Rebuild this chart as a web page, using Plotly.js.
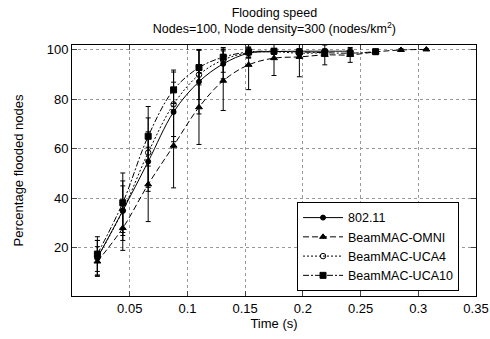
<!DOCTYPE html>
<html><head><meta charset="utf-8">
<script src="https://cdn.plot.ly/plotly-3.0.1.min.js"></script>
<style>html,body{margin:0;padding:0;background:#fff}#c{width:490px;height:339px}</style>
</head><body><div id="c"></div>
<script>
const timeX = [0.022,0.044,0.066,0.088,0.110,0.131,0.153,0.175,0.197,0.219,0.241,0.263,0.285,0.307];
const names = ["802.11","BeamMAC-OMNI","BeamMAC-UCA4","BeamMAC-UCA10"];
const y80211 = [16,35,54.8,74.8,87,94.2,98.5,99.1,99.3,99.3,99.3];
const e80211 = [7,10,12,12,13,6,2,1,1,1,1];
const yOmni = [14.5,28,45.6,61.2,76.7,87.4,93.8,96.5,97,97.8,97.8,99,99.8,100];
const eOmni = [6,9,15,17,15,12,10,7,8,4,3,1,0.5,0.3];
const yUca4 = [16,35,58.4,77.9,89.8,95.8,98.7,99.1,98.5,98.7];
const eUca4 = [7,12,14,13,10,5,2,1,1,1];
const yUca10 = [17.5,38.2,65,83.7,92.7,96.9,99,99.3,99,98.7,98.5,99.1];
const eUca10 = [7,12,12,8,7,3,2,1,1,1,1,1];
const xTicks = [0.05,0.1,0.15,0.2,0.25,0.3,0.35];
const xTickText = ["0.05","0.1","0.15","0.2","0.25","0.3","0.35"];
const yTicks = [20,40,60,80,100];

const ys = [y80211,yOmni,yUca4,yUca10];
const es = [e80211,eOmni,eUca4,eUca10];
const dashes = ["solid","6px,3px","2px,2px","6px,2px,2px,2px"];
const syms = ["circle","triangle-up","circle-open","square"];
const sizes = [5,6,5.5,6];

const traces = ys.map((y,i)=>({
  x: timeX.slice(0,y.length), y: y, name: names[i],
  type:"scatter", mode:"lines+markers",
  line:{color:"#000",width:1,dash:dashes[i],shape:"spline"},
  marker:{symbol:syms[i],size:sizes[i],color:"#000",line:{color:"#000",width:1}},
  error_y:{type:"data",array:es[i],visible:true,color:"#000",thickness:1,width:2.5}
}));

const font = {family:"Liberation Sans, Arial, sans-serif",size:13,color:"#000"};
const layout = {
  width:490,height:339,
  margin:{l:72,r:14,t:45,b:43},
  paper_bgcolor:"#fff",plot_bgcolor:"#fff",
  font:font,
  title:{text:"Flooding speed<br>Nodes=100, Node density=300 (nodes/km<sup>2</sup>)",
    font:{family:font.family,size:12.5,color:"#000"},x:0.56,xanchor:"center",
    yref:"container",y:0.95,yanchor:"middle"},
  xaxis:{range:[0,0.35],tickvals:xTicks,ticktext:xTickText,ticks:"inside",ticklen:5,
    showline:true,linecolor:"#000",linewidth:1,mirror:"ticks",
    showgrid:true,gridcolor:"#999",griddash:"dot",gridwidth:1,zeroline:false,
    title:{text:"Time (s)",font:font,standoff:4},tickfont:font},
  yaxis:{range:[0.6,101.8],tickvals:yTicks,ticks:"inside",ticklen:5,
    showline:true,linecolor:"#000",linewidth:1,mirror:"ticks",
    showgrid:true,gridcolor:"#999",griddash:"dot",gridwidth:1,zeroline:false,
    title:{text:"Percentage flooded nodes",font:font,standoff:20},tickfont:font},
  legend:{x:0.557,y:0.02,xanchor:"left",yanchor:"bottom",bgcolor:"#fff",
    bordercolor:"#000",borderwidth:1,font:{family:font.family,size:12.5,color:"#000"},
    tracegroupgap:0,itemwidth:40},
  showlegend:true
};
Plotly.newPlot("c",traces,layout,{displayModeBar:false,staticPlot:true});
</script></body></html>
